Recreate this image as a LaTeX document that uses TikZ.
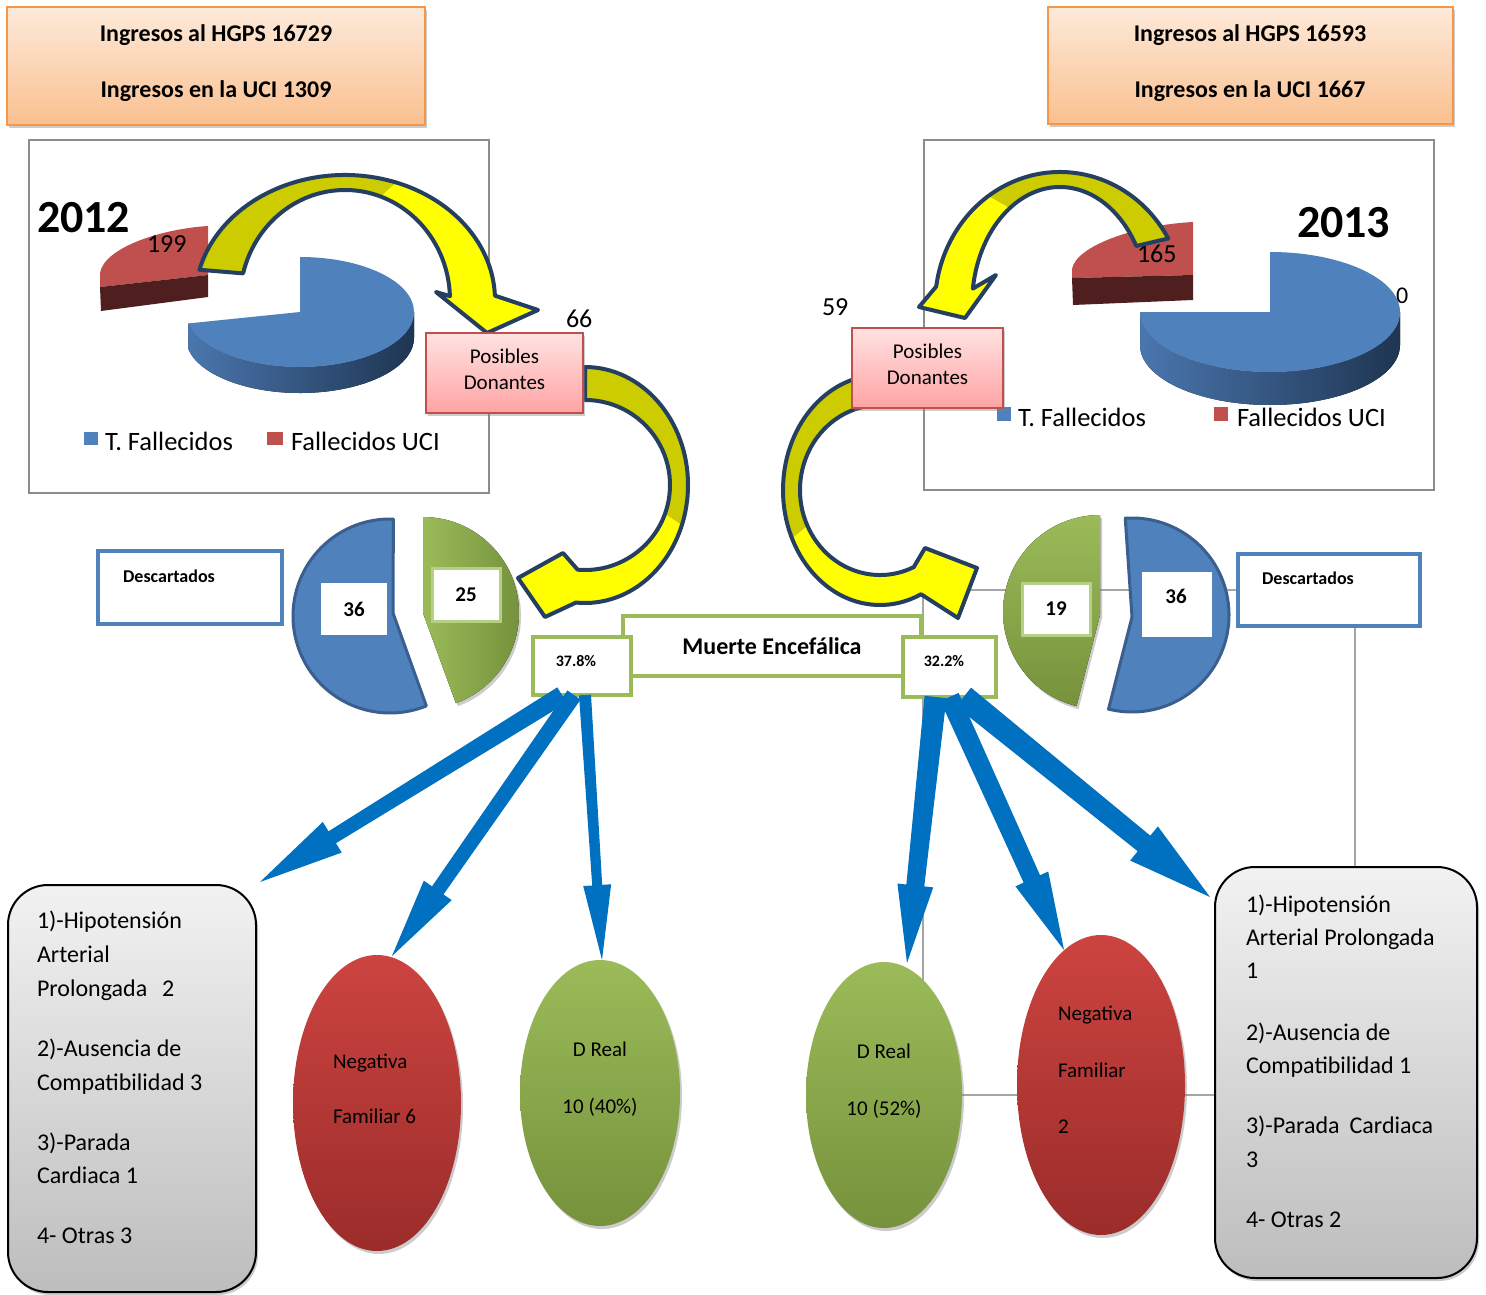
\documentclass[tikz,border=0pt]{standalone}
\usepackage{fontspec}
\setmainfont{Carlito}
\usetikzlibrary{calc,shadows,shapes.geometric}
\pgfdeclarelayer{bg}
\pgfsetlayers{bg,main}
\definecolor{orB}{HTML}{F79646}
\definecolor{orT}{HTML}{FDEADA}
\definecolor{orBot}{HTML}{FAC090}
\definecolor{pkT}{HTML}{FFE2E2}
\definecolor{pkB}{HTML}{FFA3A3}
\definecolor{pkD}{HTML}{C0504D}
\definecolor{pBlue}{HTML}{4F81BD}
\definecolor{pBlueE}{HTML}{3A5F8E}
\definecolor{sideL}{HTML}{4A76AE}
\definecolor{sideR}{HTML}{1F3552}
\definecolor{redT}{HTML}{C0504D}
\definecolor{redS}{HTML}{4F1E1E}
\definecolor{grL}{HTML}{9BBB59}
\definecolor{grD}{HTML}{76923C}
\definecolor{grBox}{HTML}{B5CF85}
\definecolor{ylw}{HTML}{FFFF00}
\definecolor{olv}{HTML}{CCCC00}
\definecolor{nvy}{HTML}{243F60}
\definecolor{abl}{HTML}{0070C0}
\definecolor{frm}{HTML}{8C8C8C}
\definecolor{elT}{HTML}{CC4440}
\definecolor{elB}{HTML}{9B2C2A}
\definecolor{gyT}{HTML}{F2F2F2}
\definecolor{gyB}{HTML}{BDBDBD}
\definecolor{lin}{HTML}{A6A6A6}

% curved twisted arrow: center, outer radii, inner radii, start, split, end, head
\newcommand\yarrow[7]{%
  \fill[olv] ($(#1)+(#4:#2)$) arc (#4:#5:#2) -- ($(#1)+(#5:#3)$) arc (#5:#4:#3) -- cycle;
  \fill[ylw] ($(#1)+(#5:#2)$) arc (#5:#6:#2) -- #7 -- ($(#1)+(#6:#3)$) arc (#6:#5:#3) -- cycle;
  \draw[nvy, line width=4pt, line join=round] ($(#1)+(#4:#2)$) arc (#4:#6:#2) -- #7 -- ($(#1)+(#6:#3)$) arc (#6:#4:#3) -- cycle;
}
% straight block arrow: start, tip, start half width, base half width, head half width, head length
\newcommand\barrow[6]{%
  \coordinate (bH) at ($(#2)!#6pt!(#1)$);
  \fill[abl] ($(#1)!#3pt!90:(#2)$) -- ($(bH)!#4pt!90:(#2)$) -- ($(bH)!#5pt!90:(#2)$) -- (#2)
     -- ($(bH)!#5pt!-90:(#2)$) -- ($(bH)!#4pt!-90:(#2)$) -- ($(#1)!#3pt!-90:(#2)$) -- cycle;
}

\begin{document}
\begin{tikzpicture}[x=1pt,y=-1pt,
  every node/.style={inner sep=0pt, outer sep=0pt},
  shd/.style={drop shadow={opacity=.4, shadow xshift=2pt, shadow yshift=-3pt}},
  hdrbox/.style={rectangle, draw=orB, line width=2pt, top color=orT, bottom color=orBot, shd},
  hdrtxt/.style={font=\fontsize{24}{27}\selectfont\bfseries},
  frame/.style={rectangle, draw=frm, line width=1.6pt},
  posbox/.style={rectangle, draw=pkD, line width=1.5pt, top color=pkT, bottom color=pkB, shd, align=center, font=\fontsize{21}{26}\selectfont},
  descbox/.style={rectangle, draw=pBlue, line width=3.5pt, fill=white},
  desctxt/.style={font=\fontsize{18}{20}\selectfont\bfseries},
  gbox/.style={rectangle, draw=grL, line width=4pt, fill=white},
  pcttxt/.style={font=\fontsize{16}{18}\selectfont\bfseries},
  numbox/.style={rectangle, fill=white, font=\fontsize{21}{24}\selectfont\bfseries},
  numboxg/.style={numbox, draw=grBox, line width=3pt},
  redell/.style={ellipse, top color=elT, bottom color=elB, shd},
  grell/.style={ellipse, top color=grL, bottom color=grD, shd},
  gybox/.style={rectangle, rounded corners=40pt, draw=black, line width=2pt, top color=gyT, bottom color=gyB, shd},
  btxt/.style={font=\fontsize{24}{28}\selectfont, anchor=base west},
  eltxt/.style={font=\fontsize{21}{24}\selectfont},
  lgtxt/.style={font=\fontsize{26.5}{30}\selectfont, anchor=base west},
  numtxt/.style={font=\fontsize{26}{30}\selectfont, anchor=base west},
  yeartxt/.style={font=\fontsize{46}{50}\selectfont\bfseries, anchor=base west},
  gline/.style={draw=lin, line width=1.6pt}
]
\useasboundingbox (0,0) rectangle (1486,1295);

% ---------- header boxes
\node[hdrbox, minimum width=418pt, minimum height=118pt] (hdrL) at (216,66) {};
\node[hdrtxt] (hdrL1) at (216,35) {Ingresos al HGPS 16729};
\node[hdrtxt] (hdrL2) at (216,91) {Ingresos en la UCI 1309};
\node[hdrbox, minimum width=405pt, minimum height=117pt] (hdrR) at (1250.5,65.5) {};
\node[hdrtxt] (hdrR1) at (1250,35) {Ingresos al HGPS 16593};
\node[hdrtxt] (hdrR2) at (1250,91) {Ingresos en la UCI 1667};

% ---------- chart frames
\node[frame, minimum width=460pt, minimum height=353pt] (frL) at (259,316.5) {};
\node[frame, minimum width=510pt, minimum height=350pt] (frR) at (1179,315) {};

% ---------- 2012 chart
\node[yeartxt] (y12) at (37,232) {2012};
\fill[redT] (208,226) .. controls (160,229) and (104,248) .. (100,273) -- (100,287) -- (208,275) -- cycle;
\fill[redS] (100,287) -- (208,275) -- (208,297) -- (101,311) -- cycle;
\node[numtxt] (n199) at (147,252) {199};
\coordinate (pcL) at (300,312);
\fill[left color=sideL, right color=sideR] ($(pcL)+(0:114 and 55)$) arc (0:168:114 and 55) -- ++(0,26) arc (168:0:114 and 55) -- cycle;
\fill[pBlue] (pcL) -- ($(pcL)+(-90:114 and 55)$) arc (-90:168:114 and 55) -- cycle;
\fill[pBlue] (84,432) rectangle (98,445);
\node[lgtxt] (lgL1) at (105,450) {T. Fallecidos};
\fill[redT] (267,432) rectangle (283,445);
\node[lgtxt] (lgL2) at (291,450) {Fallecidos UCI};

% ---------- 2013 chart
\node[yeartxt] (y13) at (1297,237) {2013};
\fill[redT] (1193,222) .. controls (1135,225) and (1076,246) .. (1072,269) -- (1072,278) -- (1193,275) -- cycle;
\fill[redS] (1072,278) -- (1193,275) -- (1193,300) -- (1073,305) -- cycle;
\node[numtxt] (n165) at (1137,262) {165};
\coordinate (pcR) at (1270,312);
\fill[left color=sideL, right color=sideR] ($(pcR)+(0:130 and 60)$) arc (0:180:130 and 60) -- ++(0,33) arc (180:0:130 and 60) -- cycle;
\fill[pBlue] (pcR) -- ($(pcR)+(-90:130 and 60)$) arc (-90:180:130 and 60) -- cycle;
\node[font=\fontsize{24}{28}\selectfont, anchor=base west] (n0) at (1396,303) {0};
\fill[pBlue] (997,407) rectangle (1011,421);
\node[lgtxt] (lgR1) at (1018,426) {T. Fallecidos};
\fill[redT] (1214,407) rectangle (1228,421);
\node[lgtxt] (lgR2) at (1237,426) {Fallecidos UCI};

% ---------- split pies
\coordinate (dbL) at (390,616);
\filldraw[fill=pBlue, draw=pBlueE, line width=3pt, line join=round] (393,613) -- ($(dbL)+(-88:97)$) arc (-88:-292:97) -- cycle;
\coordinate (dgL) at (423,613);
\fill[left color=grL, right color=grD, shd] (dgL) -- ($(dgL)+(-90:96)$) arc (-90:70:96) -- cycle;
\coordinate (dgR) at (1100,612);
\fill[top color=grL, bottom color=grD, shd] (1100,615) -- ($(dgR)+(-90:97)$) arc (-90:-256:97) -- cycle;
\coordinate (dbR) at (1132,615);
\filldraw[fill=pBlue, draw=pBlueE, line width=3pt, line join=round] (1132,617) -- ($(dbR)+(-94:97)$) arc (-94:104:97) -- cycle;

\node[numbox, minimum width=66pt, minimum height=52pt] (n36L) at (354,609) {36};
\node[numboxg, minimum width=68pt, minimum height=53pt] (n25) at (466,595) {25};
\node[numboxg, minimum width=68pt, minimum height=52pt] (n19) at (1056,609) {19};
\node[numbox, minimum width=70pt, minimum height=65pt] (n36Rb) at (1177,604) {};
\node[font=\fontsize{21}{24}\selectfont\bfseries] (n36R) at (1176,596) {36};

% ---------- yellow curved arrows
\yarrow{345,300}{150 and 125}{105 and 110}{194}{290}{358}{(538,310) -- (487,333) -- (436,292)}
\yarrow{585,485}{103 and 118}{85 and 85}{-90}{20}{95}{(545,617) -- (518,578) -- (563,553)}
\yarrow{1060,305}{125 and 133}{88 and 118}{-30}{-125}{-172}{(919,307) -- (965,318) -- (996,275)}
\yarrow{880,490}{97 and 115}{80 and 85}{-85}{-205}{-295}{(958,618) -- (977,568) -- (925,548)}

% ---------- Posibles donantes
\node[posbox, minimum width=157pt, minimum height=80pt] (posL) at (504.5,373) {Posibles\\Donantes\strut};
\node[posbox, minimum width=151pt, minimum height=80pt] (posR) at (927.5,368) {Posibles\\Donantes\strut};
\node[numtxt] (n66) at (566,327) {66};
\node[numtxt] (n59) at (822,315) {59};

% ---------- Descartados
\node[descbox, minimum width=184pt, minimum height=73pt] (descL) at (190,587.5) {};
\node[desctxt] (descLt) at (169,576) {Descartados};
\node[descbox, minimum width=182pt, minimum height=72pt] (descR) at (1329,590) {};
\node[desctxt] (descRt) at (1308,578) {Descartados};

% ---------- Muerte encefalica
\node[gbox, minimum width=298pt, minimum height=60pt, font=\fontsize{24}{28}\selectfont\bfseries] (me) at (772,646) {Muerte Encefálica};
\node[gbox, minimum width=98pt, minimum height=58pt] (p378) at (582,666) {};
\node[pcttxt] (t378) at (576,661) {37.8\%};
\node[gbox, minimum width=93pt, minimum height=60pt] (p322) at (949.5,667) {};
\node[pcttxt] (t322) at (944,661) {32.2\%};

% ---------- bottom shapes
\node[gybox, minimum width=248pt, minimum height=407pt] (boxL) at (132,1088.5) {};
\node[redell, minimum width=168pt, minimum height=296pt] (redL) at (377,1103) {};
\node[grell, minimum width=160pt, minimum height=266pt] (grLe) at (600,1093) {};
\node[grell, minimum width=156pt, minimum height=266pt] (grRe) at (884,1095) {};
\node[redell, minimum width=168pt, minimum height=300pt] (redR) at (1101,1085) {};
\node[gybox, minimum width=262pt, minimum height=411pt] (boxR) at (1346,1072.5) {};

\foreach \t/\yy [count=\i] in {1)-Hipotensión/928, Arterial/962, Prolongada\hspace{15pt}2/996, 2)-Ausencia de/1056, Compatibilidad 3/1090, 3)-Parada/1150, Cardiaca 1/1183, 4- Otras 3/1243}
  {\node[btxt] (bl\i) at (37,\yy) {\t};}
\foreach \t/\yy [count=\i] in {1)-Hipotensión/912, Arterial Prolongada/945, 1/978, 2)-Ausencia de/1040, Compatibilidad 1/1073, 3)-Parada\hspace{10pt}Cardiaca/1133, 3/1167, 4- Otras 2/1227}
  {\node[btxt] (br\i) at (1246,\yy) {\t};}

\node[eltxt, anchor=base west] (rl1) at (333,1068) {Negativa};
\node[eltxt, anchor=base west] (rl2) at (333,1123) {Familiar 6};
\node[eltxt, anchor=base] (gl1) at (600,1056) {D Real};
\node[eltxt, anchor=base] (gl2) at (600,1113) {10 (40\%)};
\node[eltxt, anchor=base] (gr1) at (884,1058) {D Real};
\node[eltxt, anchor=base] (gr2) at (884,1115) {10 (52\%)};
\node[eltxt, anchor=base west] (rr1) at (1058,1020) {Negativa};
\node[eltxt, anchor=base west] (rr2) at (1058,1077) {Familiar};
\node[eltxt, anchor=base west] (rr3) at (1058,1133) {2};

% ---------- blue arrows
\coordinate (sa) at ($(p378.south)+(-20,0)$);
\coordinate (sb) at ($(p378.south)+(-8,0)$);
\coordinate (sc) at ($(p378.south)+(3,0)$);
\coordinate (ta) at ($(boxL.north east)+(4,-3)$);
\coordinate (tb) at ($(redL.north)+(15,1)$);
\coordinate (tc) at ($(grLe.north)+(2,0)$);
\coordinate (sd) at ($(p322.south)+(-14,0)$);
\coordinate (se) at ($(p322.south)+(0,0)$);
\coordinate (sf) at ($(p322.south)+(14,0)$);
\coordinate (td) at ($(grRe.north)+(23,1)$);
\coordinate (te) at ($(redR.north)+(-37,15)$);
\coordinate (tf) at ($(boxR.north west)+(-5,30)$);
\barrow{sa}{ta}{9}{7}{18}{85}
\barrow{sb}{tb}{8}{7}{17}{80}
\barrow{sc}{tc}{6}{5}{14}{75}
\barrow{sd}{td}{11}{9}{18}{78}
\barrow{se}{te}{10}{9}{18}{78}
\barrow{sf}{tf}{12}{10}{22}{85}

% ---------- grey connector lines (behind)
\coordinate (j1) at (923,985);
\coordinate (j2) at (1355,870);
\begin{pgfonlayer}{bg}
\fill[white] (0,0) rectangle (1486,1295);
\draw[gline] (descR.west) -| (j1);
\draw[gline] (grRe.center) -- (grRe.center -| boxR.west);
\draw[gline] (descR.south -| j2) -- (j2);
\end{pgfonlayer}
\end{tikzpicture}
\end{document}
